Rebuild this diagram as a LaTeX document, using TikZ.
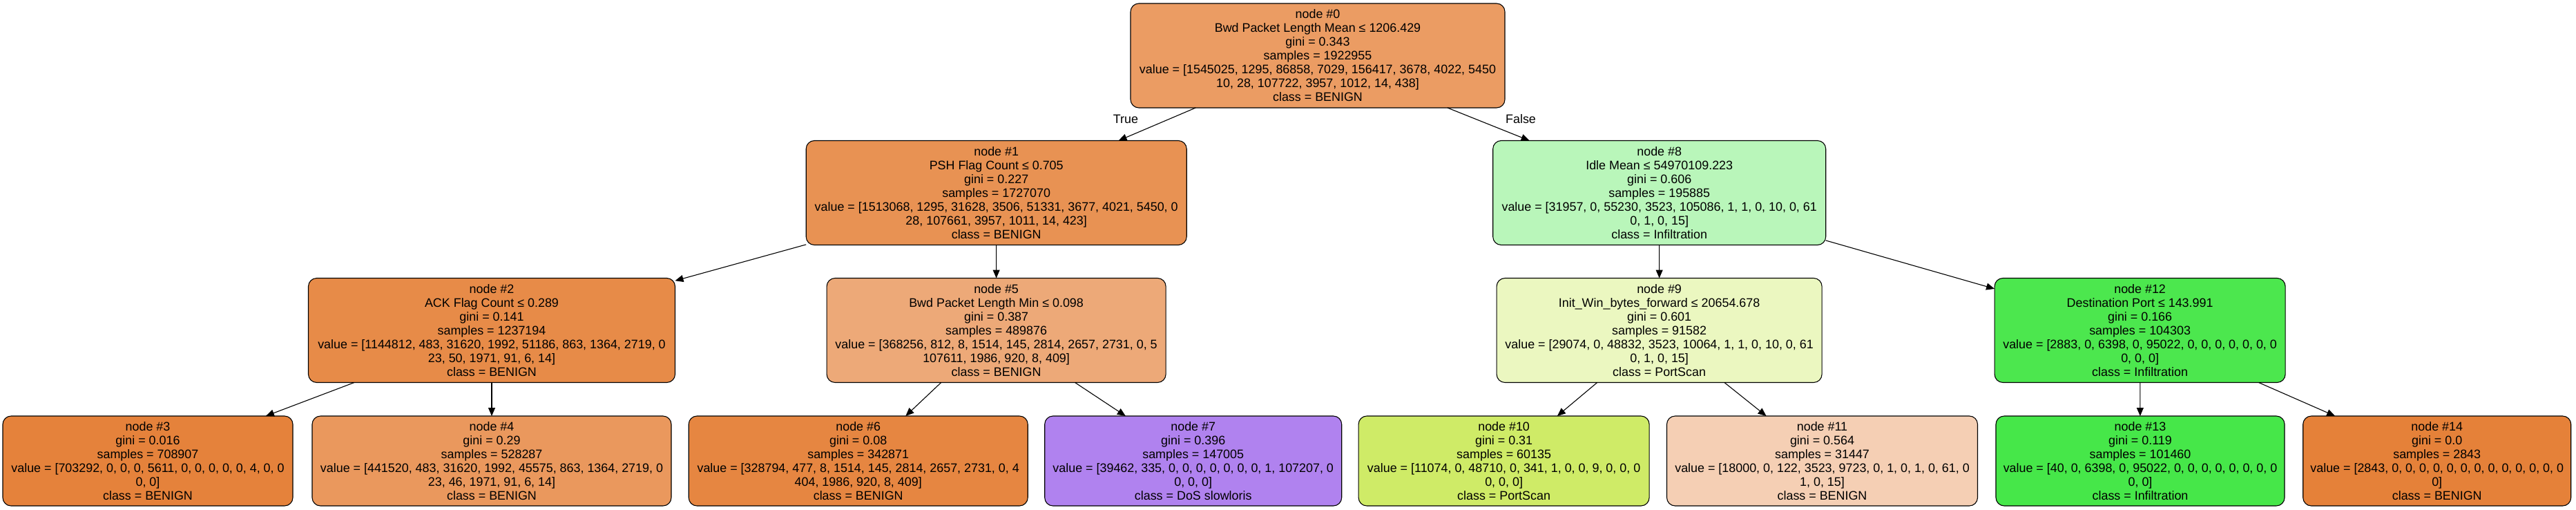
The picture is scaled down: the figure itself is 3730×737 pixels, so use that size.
\documentclass[tikz,border=0pt]{standalone}
\usepackage{fontspec}
\setmainfont{Liberation Sans}
\usetikzlibrary{arrows.meta}
\definecolor{c0}{RGB}{235,156,99}
\definecolor{c1}{RGB}{232,146,83}
\definecolor{c2}{RGB}{231,139,72}
\definecolor{c3}{RGB}{229,130,59}
\definecolor{c4}{RGB}{234,152,93}
\definecolor{c5}{RGB}{237,169,120}
\definecolor{c6}{RGB}{230,134,65}
\definecolor{c7}{RGB}{176,130,239}
\definecolor{c8}{RGB}{185,246,186}
\definecolor{c9}{RGB}{235,247,192}
\definecolor{c10}{RGB}{207,235,103}
\definecolor{c11}{RGB}{245,207,180}
\definecolor{c12}{RGB}{76,231,78}
\definecolor{c13}{RGB}{70,231,73}
\definecolor{c14}{RGB}{229,129,57}
\begin{document}
\begin{tikzpicture}[x=1pt,y=-1pt,
  tnode/.style={draw=black, rounded corners=12pt, line width=1.1pt, align=center,
    inner sep=0pt, outer sep=0pt, font=\fontsize{17.9}{20}\selectfont},
  inode/.style={tnode, minimum height=151pt},
  leaf/.style={tnode, minimum height=130pt},
  edge/.style={-{Triangle[length=12pt,width=10pt]}, line width=1.1pt},
  lbl/.style={font=\fontsize{17.9}{20}\selectfont, inner sep=0pt}]
\useasboundingbox (0,0) rectangle (3730,737);
% level 0
\node[inode, fill=c0, minimum width=542pt] (n0) at (1908,80.5)
  {node \#0\\Bwd Packet Length Mean ≤ 1206.429\\gini = 0.343\\samples = 1922955\\value = [1545025, 1295, 86858, 7029, 156417, 3678, 4022, 5450\\10, 28, 107722, 3957, 1012, 14, 438]\\class = BENIGN};
% level 1
\node[inode, fill=c1, minimum width=551pt] (n1) at (1442.7,279)
  {node \#1\\PSH Flag Count ≤ 0.705\\gini = 0.227\\samples = 1727070\\value = [1513068, 1295, 31628, 3506, 51331, 3677, 4021, 5450, 0\\28, 107661, 3957, 1011, 14, 423]\\class = BENIGN};
\node[inode, fill=c8, minimum width=482pt] (n8) at (2402.7,279)
  {node \#8\\Idle Mean ≤ 54970109.223\\gini = 0.606\\samples = 195885\\value = [31957, 0, 55230, 3523, 105086, 1, 1, 0, 10, 0, 61\\0, 1, 0, 15]\\class = Infiltration};
% level 2
\node[inode, fill=c2, minimum width=531pt] (n2) at (712,478)
  {node \#2\\ACK Flag Count ≤ 0.289\\gini = 0.141\\samples = 1237194\\value = [1144812, 483, 31620, 1992, 51186, 863, 1364, 2719, 0\\23, 50, 1971, 91, 6, 14]\\class = BENIGN};
\node[inode, fill=c5, minimum width=491pt] (n5) at (1442.6,478)
  {node \#5\\Bwd Packet Length Min ≤ 0.098\\gini = 0.387\\samples = 489876\\value = [368256, 812, 8, 1514, 145, 2814, 2657, 2731, 0, 5\\107611, 1986, 920, 8, 409]\\class = BENIGN};
\node[inode, fill=c9, minimum width=471pt] (n9) at (2402.6,478)
  {node \#9\\Init\_Win\_bytes\_forward ≤ 20654.678\\gini = 0.601\\samples = 91582\\value = [29074, 0, 48832, 3523, 10064, 1, 1, 0, 10, 0, 61\\0, 1, 0, 15]\\class = PortScan};
\node[inode, fill=c12, minimum width=421pt] (n12) at (3098.6,478)
  {node \#12\\Destination Port ≤ 143.991\\gini = 0.166\\samples = 104303\\value = [2883, 0, 6398, 0, 95022, 0, 0, 0, 0, 0, 0, 0\\0, 0, 0]\\class = Infiltration};
% level 3 (leaves)
\node[leaf, fill=c3, minimum width=420pt] (n3) at (214,667)
  {node \#3\\gini = 0.016\\samples = 708907\\value = [703292, 0, 0, 0, 5611, 0, 0, 0, 0, 0, 4, 0, 0\\0, 0]\\class = BENIGN};
\node[leaf, fill=c4, minimum width=520pt] (n4) at (712,667)
  {node \#4\\gini = 0.29\\samples = 528287\\value = [441520, 483, 31620, 1992, 45575, 863, 1364, 2719, 0\\23, 46, 1971, 91, 6, 14]\\class = BENIGN};
\node[leaf, fill=c6, minimum width=491pt] (n6) at (1242.7,667)
  {node \#6\\gini = 0.08\\samples = 342871\\value = [328794, 477, 8, 1514, 145, 2814, 2657, 2731, 0, 4\\404, 1986, 920, 8, 409]\\class = BENIGN};
\node[leaf, fill=c7, minimum width=430pt] (n7) at (1727.7,667)
  {node \#7\\gini = 0.396\\samples = 147005\\value = [39462, 335, 0, 0, 0, 0, 0, 0, 0, 1, 107207, 0\\0, 0, 0]\\class = DoS slowloris};
\node[leaf, fill=c10, minimum width=421pt] (n10) at (2177.6,667)
  {node \#10\\gini = 0.31\\samples = 60135\\value = [11074, 0, 48710, 0, 341, 1, 0, 0, 9, 0, 0, 0\\0, 0, 0]\\class = PortScan};
\node[leaf, fill=c11, minimum width=450pt] (n11) at (2638.5,667)
  {node \#11\\gini = 0.564\\samples = 31447\\value = [18000, 0, 122, 3523, 9723, 0, 1, 0, 1, 0, 61, 0\\1, 0, 15]\\class = BENIGN};
\node[leaf, fill=c13, minimum width=418pt] (n13) at (3099,667)
  {node \#13\\gini = 0.119\\samples = 101460\\value = [40, 0, 6398, 0, 95022, 0, 0, 0, 0, 0, 0, 0, 0\\0, 0]\\class = Infiltration};
\node[leaf, fill=c14, minimum width=388pt] (n14) at (3528.7,667)
  {node \#14\\gini = 0.0\\samples = 2843\\value = [2843, 0, 0, 0, 0, 0, 0, 0, 0, 0, 0, 0, 0, 0\\0]\\class = BENIGN};
% edges
\draw[edge] (n0) -- (n1);
\draw[edge] (n0) -- (n8);
\draw[edge] (n1) -- (n2);
\draw[edge] (n1) -- (n5);
\draw[edge] (n2) -- (n3);
\draw[edge] (n2) -- (n4);
\draw[edge] (n5) -- (n6);
\draw[edge] (n5) -- (n7);
\draw[edge] (n8) -- (n9);
\draw[edge] (n8) -- (n12);
\draw[edge] (n9) -- (n10);
\draw[edge] (n9) -- (n11);
\draw[edge] (n12) -- (n13);
\draw[edge] (n12) -- (n14);
% edge labels
\node[lbl] (tTrue) at (1630,172) {True};
\node[lbl] (tFalse) at (2202,172) {False};
\end{tikzpicture}
\end{document}
